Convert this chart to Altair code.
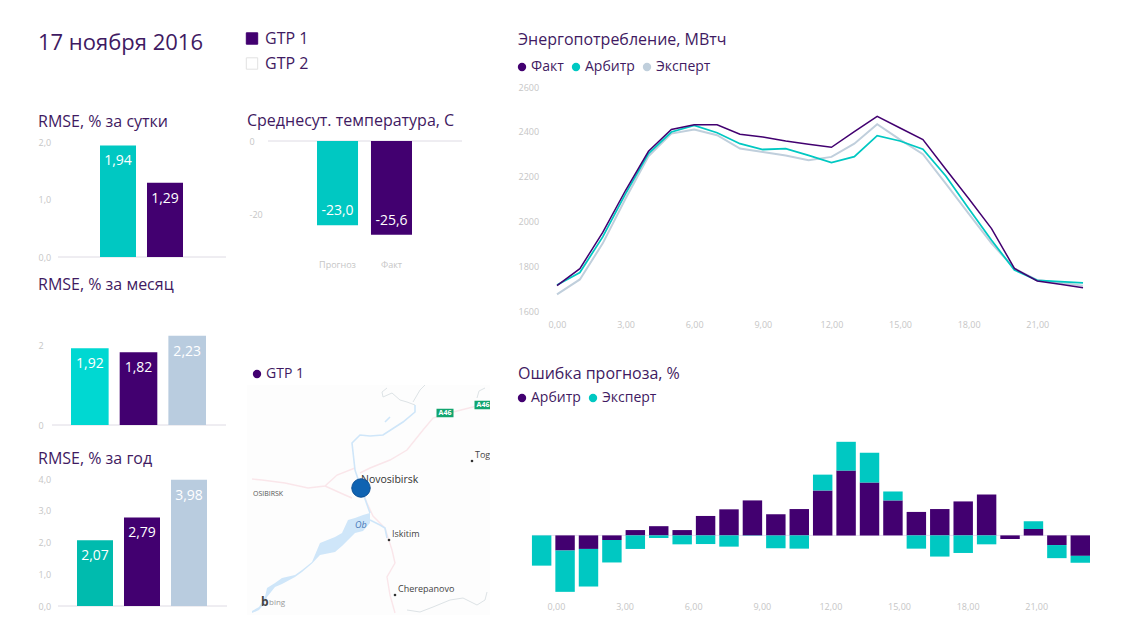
import altair as alt
import pandas as pd

FONT = "Open Sans"
PURPLE = "#420070"
TEAL = "#00C8C2"
TEAL_BRIGHT = "#00D8D2"
TEAL_DARK = "#00BBAE"
STEEL = "#B9CCDF"
TEXT = "#3F1A62"
GREY = "#C6C6C6"
BASE = "#DEDBE4"

date_text = ["17 ноября 2016"]
gtp_names = ["GTP 1", "GTP 2"]

day_cats = ["Арбитр", "Факт"]
day_vals = [1.94, 1.29]
month_cats = ["Арбитр", "Факт", "Эксперт"]
month_vals = [1.92, 1.82, 2.23]
year_cats = ["Арбитр", "Факт", "Эксперт"]
year_vals = [2.07, 2.79, 3.98]
temp_cats = ["Прогноз", "Факт"]
temp_vals = [-23.0, -25.6]

hours = list(range(24))
hour_ticks = [0, 3, 6, 9, 12, 15, 18, 21]
fact = [1713, 1789, 1951, 2139, 2313, 2410, 2431, 2431, 2389, 2377, 2359, 2344,
        2331, 2401, 2469, 2417, 2365, 2233, 2102, 1968, 1790, 1734, 1719, 1704]
arbitr = [1716, 1772, 1931, 2124, 2303, 2399, 2428, 2396, 2347, 2321, 2325, 2295,
          2263, 2289, 2383, 2359, 2322, 2203, 2058, 1916, 1783, 1737, 1731, 1726]
expert = [1674, 1741, 1902, 2102, 2291, 2392, 2410, 2385, 2325, 2310, 2294, 2273,
          2288, 2347, 2434, 2365, 2300, 2169, 2035, 1902, 1790, 1738, 1726, 1713]
err_arbitr = [0, -1.05, -0.94, -0.32, 0.37, 0.64, 0.37, 1.35, 1.81, 2.43, 1.47, 1.83,
              3.12, 4.5, 3.67, 2.43, 1.63, 1.83, 2.36, 2.84, -0.25, 0.44, -0.67, -1.42]
err_expert = [-2.1, -2.87, -2.61, -1.56, -0.94, -0.18, -0.62, -0.6, -0.78, -0.02, -0.89, -0.92,
              1.1, 2.0, 2.07, 0.62, -0.92, -1.47, -1.22, -0.62, 0, 0.55, -0.91, -0.48]

# Map features: km east / north of Novosibirsk
res_x = [-109, -102, -96, -94, -86, -79, -66, -59, -49, -41, -26, -19, -13, -6, 2, 9]
res_up = [-123, -119, -109, -100, -95, -90, -87, -82, -74, -55, -49, -45, -32, -30, -27, -25]
res_lo = [-125, -122, -115, -109, -99, -96, -89, -84, -75.5, -67, -64, -58, -52, -45, -43, -35]
rivers = {
    "north": [(-6, 18), (-8, 36), (-9, 45), (-1, 53), (9, 52), (22, 53), (42, 66), (54, 76), (54, 83)],
    "link": [(9, -25), (3, -8), (-2, 6), (-6, 18)],
    "iskitim": [(9, -32), (19, -37), (24, -40), (26, -50)],
    "lake": [(24, 66), (29, 71)],
}
streams = {
    "a": [(54, 83), (46, 86), (39, 88), (31, 95), (22, 91), (21, 96), (26, 100)],
    "b": [(52, 86), (59, 98), (64, 103)],
    "c": [(46, -122), (59, -124), (72, -119), (89, -112), (102, -110), (116, -117), (124, -112), (126, -104)],
    "d": [(116, 90), (118, 97), (124, 100)],
}
roads = {
    "w": [(-109, 9), (-99, 8), (-76, 5), (-53, 0), (-36, 2), (-24, 13), (-6, 20)],
    "w2": [(-36, 2), (-16, -7), (-9, -10)],
    "ne": [(-1, 15), (9, 20), (29, 28), (46, 38), (62, 58), (72, 70), (92, 76), (112, 81), (126, 85)],
    "s": [(0, 0), (6, -15), (12, -28), (24, -40), (31, -62), (34, -75), (26, -89), (29, -107), (34, -125)],
}
town_names = ["Iskitim", "Cherepanovo", "Toguchin"]
town_x = [28, 34, 111]
town_y = [-52, -107, 27]
shield_names = ["A46", "A46"]
shield_x = [84, 122]
shield_y = [75, 83]


def comma(fmt):
    return "replace(replace(format(datum.value,'%s'),'\u2212','-'),'.',',')" % fmt


def val_axis(values, fmt, pad=0):
    return alt.Axis(values=values, tickCount=len(values), labelExpr=comma(fmt), title=None, domain=False,
                    ticks=False, grid=False, labelAlign="left", labelPadding=pad, labelFontSize=9,
                    labelColor=GREY, labelFont=FONT, labelOverlap=False, labelFlush=False)


def head(text, offset):
    return alt.TitleParams(text, anchor="start", font=FONT, fontSize=16, fontWeight="normal",
                           color=TEXT, offset=offset, frame="group")


def spacer(w=20, h=20):
    return alt.Chart(pd.DataFrame({"a": [0]})).mark_point(opacity=0).properties(width=w, height=h)


def independent(c):
    return c.resolve_scale(color="independent", fill="independent", stroke="independent",
                           strokeWidth="independent").resolve_legend(
        color="independent", fill="independent", stroke="independent", strokeWidth="independent")


def bar_panel(cats, vals, colors, title, w, h, dom, ticks, tfmt, lfmt, pad, band,
              rule, toff, x_axis=None, neg=False):
    df = pd.DataFrame({"cat": cats, "v": vals})
    x = alt.X("cat:N", sort=cats, axis=x_axis,
              scale=alt.Scale(domain=cats, range=[band[1], band[2]], paddingInner=band[0], paddingOuter=0))
    y = alt.Y("v:Q", scale=alt.Scale(domain=dom, nice=False), axis=val_axis(ticks, tfmt, pad))
    bars = alt.Chart(df).mark_bar().encode(
        x=x, y=y, color=alt.Color("cat:N", scale=alt.Scale(domain=cats, range=colors), legend=None))
    txt = alt.Chart(df).transform_calculate(
        lab="replace(replace(format(datum.v,'%s'),'\u2212','-'),'.',',')" % lfmt
    ).mark_text(color="white", font=FONT, fontSize=14,
                baseline="bottom" if neg else "top", dy=-7 if neg else 9).encode(x=x, y=y, text="lab:N")
    base = alt.Chart(pd.DataFrame({"a": [0]})).mark_rule(color=BASE, strokeWidth=1).encode(
        x=alt.value(rule[0]), x2=alt.value(rule[1]), y=alt.datum(0))
    return alt.layer(base, bars, txt).properties(width=w, height=h, title=head(title, toff))


date_panel = alt.Chart(pd.DataFrame({"t": date_text})).mark_text(
    align="left", baseline="middle", font=FONT, fontSize=22, color=TEXT
).encode(x=alt.value(0), y=alt.value(10), text="t:N").properties(width=160, height=20)

day = bar_panel(day_cats, day_vals, [TEAL, PURPLE], "RMSE, % за сутки", 188, 115, [0, 2],
                [0, 1, 2], ".1f", ".2f", 0, (0.234, 62, 145), (20, 188), 8)
month = bar_panel(month_cats, month_vals, [TEAL_BRIGHT, PURPLE, STEEL], "RMSE, % за месяц", 188, 90,
                  [0, 2.25], [0, 2], ".0f", ".2f", 0, (0.227, 33, 168), (14, 188), 42)
year = bar_panel(year_cats, year_vals, [TEAL_DARK, PURPLE, STEEL], "RMSE, % за год", 188, 127, [0, 4],
                 [0, 1, 2, 3, 4], ".1f", ".2f", 0, (0.234, 39, 169), (20, 189), 8)

temp_x_axis = alt.Axis(title=None, domain=False, ticks=False, labelAngle=0, labelFontSize=9,
                       labelColor=GREY, labelFont=FONT, labelPadding=9, orient="bottom")
temp = bar_panel(temp_cats, temp_vals, [TEAL, PURPLE], "Среднесут. температура, С", 215, 110, [-30, 0],
                 [-20, 0], ".0f", ".1f", -2, (0.24, 70, 165), (21, 215), 8, x_axis=temp_x_axis, neg=True)

col1 = independent(alt.vconcat(spacer(h=25), date_panel, spacer(h=89), day, spacer(h=78), month, spacer(h=54), year,
                               spacing=0, bounds="flush"))

# slicer
sl = pd.DataFrame({"name": gtp_names})
sl_y = alt.Y("name:N", axis=None, sort=gtp_names, scale=alt.Scale(paddingInner=0, paddingOuter=0))
sl_marks = alt.Chart(sl).mark_square(size=130, strokeWidth=1, opacity=1).encode(
    x=alt.value(5), y=sl_y,
    fill=alt.Fill("name:N", scale=alt.Scale(domain=gtp_names, range=[PURPLE, "#FFFFFF"]), legend=None),
    stroke=alt.Stroke("name:N", scale=alt.Scale(domain=gtp_names, range=[PURPLE, "#E2E2E2"]), legend=None))
sl_text = alt.Chart(sl).mark_text(align="left", baseline="middle", font=FONT, fontSize=16, color=TEXT).encode(
    x=alt.value(18), y=sl_y, text="name:N")
slicer = alt.layer(sl_marks, sl_text).properties(width=100, height=50)


def paths(d):
    return pd.DataFrame([{"p": k, "x": a, "y": b} for k, pts in d.items() for a, b in pts])


mx = alt.Scale(domain=[-114, 129], nice=False, zero=False)
my = alt.Scale(domain=[-127, 103], nice=False, zero=False)
X = alt.X("x:Q", scale=mx, axis=None)
Y = alt.Y("y:Q", scale=my, axis=None)


def map_line(d, color, width):
    df = paths(d)
    df["i"] = range(len(df))
    return alt.Chart(df).mark_line(color=color, strokeWidth=width, clip=True).encode(
        x=X, y=Y, detail="p:N", order="i:Q")


def map_label(items, size, color, dx=0, dy=0, align="left", **kw):
    df = pd.DataFrame(items, columns=["t", "x", "y"])
    return alt.Chart(df).mark_text(align=align, baseline="middle", font=FONT, fontSize=size, color=color,
                                   dx=dx, dy=dy, clip=True, **kw).encode(x=X, y=Y, text="t:N")


res = alt.Chart(pd.DataFrame({"x": res_x, "y": res_up, "y2": res_lo})).mark_area(color="#CFE6F9", clip=True).encode(
    x=X, y=Y, y2="y2:Q")
towns = pd.DataFrame({"t": town_names, "x": town_x, "y": town_y})
town_dots = alt.Chart(towns).mark_circle(size=7, color="#333333", opacity=1, clip=True).encode(x=X, y=Y)
town_text = alt.Chart(towns).mark_text(align="left", baseline="middle", font=FONT, fontSize=9, color="#444444",
                                       dx=3, dy=-6, clip=True).encode(x=X, y=Y, text="t:N")
shields = pd.DataFrame({"t": shield_names, "x": shield_x, "y": shield_y})
shield_box = alt.Chart(shields).mark_point(shape="M-1,-0.5H1V0.5H-1Z", size=289, filled=True, color="#12A56F",
                                           opacity=1, clip=True).encode(x=X, y=Y)
shield_text = alt.Chart(shields).mark_text(font=FONT, fontSize=7, fontWeight="bold", color="white", baseline="middle",
                                           clip=True).encode(x=X, y=Y, text="t:N")
city = pd.DataFrame({"x": [0], "y": [0], "name": ["Novosibirsk"], "g": ["GTP 1"]})
city_text = alt.Chart(city).mark_text(align="left", baseline="middle", font=FONT, fontSize=10.5, color="#333333",
                                      dy=-8).encode(x=X, y=Y, text="name:N")
city_dot = alt.Chart(city).mark_circle(size=340, color="#0F63B2", stroke="#0B4F94", strokeWidth=1, opacity=1).encode(x=X, y=Y)
city_leg = alt.Chart(city).mark_circle(size=0, opacity=0).encode(
    x=X, y=Y,
    fill=alt.Fill("g:N", scale=alt.Scale(domain=["GTP 1"], range=[PURPLE]),
                  legend=alt.Legend(orient="none", legendX=3, legendY=-18, title=None, symbolType="circle",
                                    symbolSize=70, symbolOpacity=1, labelFont=FONT, labelFontSize=14,
                                    labelColor=TEXT, labelOffset=2)))
map_panel = alt.layer(
    map_line(roads, "#FAE6EA", 1.4), map_line(streams, "#DDE3E6", 1), res, map_line(rivers, "#CFE6F9", 1.6),
    map_label([("OSIBIRSK", -108, -6)], 7, "#555555"),
    map_label([("Ob", -6, -37)], 9, "#4A7AB8", fontStyle="italic"),
    map_label([("b", -100, -114)], 12, "#444444", fontWeight="bold"),
    map_label([("bing", -92, -115)], 8, "#999999"),
    town_dots, town_text, shield_box, shield_text, city_text, city_dot, city_leg,
).properties(width=243, height=230, view=alt.ViewConfig(fill="#FDFDFD", stroke=None))

col2 = independent(alt.vconcat(spacer(h=18), slicer, spacer(h=65), temp, spacer(h=134), map_panel,
                               spacing=0, bounds="flush"))


def hour_axis():
    return alt.Axis(values=hour_ticks, tickCount=len(hour_ticks), labelExpr=comma(".2f"), title=None, domain=False,
                    ticks=False, grid=False, labelFontSize=9, labelColor=GREY, labelFont=FONT, labelPadding=9,
                    labelFlush=False, labelOverlap=False)


def legend(x, y):
    return alt.Legend(orient="none", legendX=x, legendY=y, title=None, direction="horizontal", symbolType="circle",
                      symbolSize=70, symbolOpacity=1, labelFont=FONT, labelFontSize=14, labelColor=TEXT,
                      labelOffset=2, columnPadding=5, gridAlign="none")


series = ["Факт", "Арбитр", "Эксперт"]
ser_colors = [PURPLE, TEAL, "#C0CFDC"]
draw_order = ["Эксперт", "Арбитр", "Факт"]
draw_colors = ["#C0CFDC", TEAL, PURPLE]
energy_df = pd.DataFrame(
    [{"h": h, "s": "Эксперт", "v": v} for h, v in zip(hours, expert)]
    + [{"h": h, "s": "Арбитр", "v": v} for h, v in zip(hours, arbitr)]
    + [{"h": h, "s": "Факт", "v": v} for h, v in zip(hours, fact)])
ex = alt.X("h:Q", scale=alt.Scale(domain=[-1.705, 23.305], nice=False, zero=False), axis=hour_axis())
ey = alt.Y("v:Q", scale=alt.Scale(domain=[1600, 2600], nice=False, zero=False),
           axis=val_axis([1600, 1800, 2000, 2200, 2400, 2600], ".0f"))
energy_lines = alt.Chart(energy_df).mark_line().encode(
    x=ex, y=ey,
    stroke=alt.Stroke("s:N", scale=alt.Scale(domain=draw_order, range=draw_colors), legend=None),
    strokeWidth=alt.StrokeWidth("s:N", scale=alt.Scale(domain=draw_order, range=[2, 1.5, 2]), legend=None),
    order="h:Q")
energy_leg = alt.Chart(energy_df).mark_circle(size=0, opacity=0).encode(
    x=ex, y=ey,
    fill=alt.Fill("s:N", scale=alt.Scale(domain=series, range=ser_colors), legend=legend(-3, -27)))
energy = alt.layer(energy_lines, energy_leg).properties(
    width=572, height=224, title=head("Энергопотребление, МВтч", 12))

err_names = ["Арбитр", "Эксперт"]
err_df = pd.DataFrame(
    [{"h": h, "s": "Арбитр", "v": v, "k": 0} for h, v in zip(hours, err_arbitr)]
    + [{"h": h, "s": "Эксперт", "v": v, "k": 1} for h, v in zip(hours, err_expert)])
err_y = alt.Y("v:Q", stack="zero", scale=alt.Scale(domain=[-4, 6.625], nice=False), axis=val_axis([0, 5], ".0f"))
err_bars = alt.Chart(err_df).mark_bar().encode(
    x=alt.X("h:O", axis=None, scale=alt.Scale(domain=hours, paddingInner=0.17, paddingOuter=0.34, align=0.875)),
    y=err_y,
    fill=alt.Fill("s:N", scale=alt.Scale(domain=err_names, range=[PURPLE, TEAL]), legend=legend(-3, -49)),
    order="k:Q")
err_ticks = alt.Chart(pd.DataFrame({"h": hour_ticks, "v": [0] * len(hour_ticks)})).mark_point(opacity=0).encode(
    x=alt.X("h:Q", scale=alt.Scale(domain=[-1.662, 23.44], nice=False, zero=False), axis=hour_axis()),
    y=alt.Y("v:Q", axis=None))
err_zero = alt.Chart(pd.DataFrame({"a": [0]})).mark_rule(color="#E6DFF0", strokeWidth=1).encode(
    x=alt.value(14), x2=alt.value(572), y=alt.datum(0))
error = alt.layer(err_zero, err_bars, err_ticks).resolve_scale(x="independent").properties(
    width=574, height=153, title=head("Ошибка прогноза, %", 9))

col3 = independent(alt.vconcat(spacer(h=79), energy, spacer(h=129), error, spacing=0, bounds="flush"))

chart = independent(alt.hconcat(col1, spacer(w=209), col2, spacer(w=271), col3, spacing=0, bounds="flush")).properties(
    padding={"left": 30, "top": 0, "right": 0, "bottom": 0}
).configure_view(stroke=None)

chart.save("out.html", embed_options={"renderer": "svg", "actions": False})
